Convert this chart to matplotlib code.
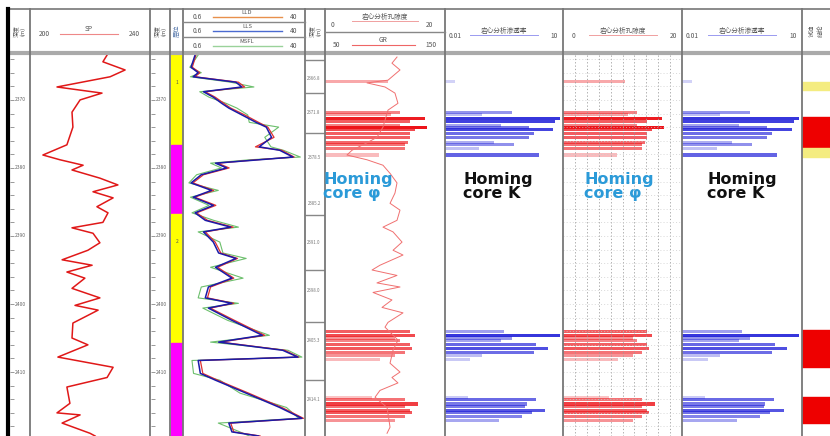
import numpy as np
import matplotlib.pyplot as plt

plt.rcParams['font.family'] = ['Noto Sans CJK SC', 'DejaVu Sans']

W, H = 830, 436
TOP, BASE = 2363.4, 2419.4   # depth shown in the log body (m)

# ---- SP curve (track 1) ----
sp_depth = [2363.4, 2364.4, 2365.6, 2366.6, 2368.1, 2369.0, 2370.0, 2371.8, 2374.0, 2376.6,
            2378.1, 2378.8, 2379.6, 2380.3, 2381.5, 2382.5, 2383.5, 2384.4, 2385.7, 2386.6,
            2388.0, 2388.8, 2389.6, 2391.0, 2392.1, 2393.5, 2394.3, 2395.3, 2396.2, 2397.7,
            2399.1, 2400.2, 2400.9, 2402.8, 2405.0, 2406.0, 2407.8, 2409.3, 2410.8, 2412.2,
            2414.6, 2416.0, 2416.3, 2417.5, 2419.0, 2419.4]
sp_value = [225.7, 224.3, 231.7, 226.7, 209.0, 224.0, 216.7, 214.0, 214.3, 212.3,
            204.3, 210.0, 217.7, 214.0, 223.3, 229.3, 221.0, 227.7, 222.3, 226.0,
            224.3, 214.0, 221.0, 223.3, 219.3, 210.7, 220.7, 212.3, 218.3, 214.0,
            223.3, 215.0, 222.7, 214.3, 214.0, 219.3, 209.3, 227.7, 225.7, 212.3,
            213.3, 209.0, 216.7, 210.7, 220.0, 221.7]

# ---- resistivity curves (track 2) ----
res_depth = [2363.4, 2365.2, 2366.0, 2366.6, 2367.4, 2368.1, 2368.8, 2369.6, 2370.5, 2371.2,
             2372.2, 2373.3, 2374.0, 2375.5, 2376.9, 2377.4, 2378.4, 2378.8, 2379.3, 2380.0,
             2381.0, 2382.2, 2383.3, 2384.3, 2385.5, 2386.6, 2387.7, 2388.7, 2389.4, 2390.9,
             2392.5, 2393.3, 2394.6, 2396.2, 2397.5, 2399.1, 2399.9, 2400.6, 2402.4, 2404.6,
             2405.6, 2406.8, 2407.8, 2408.3, 2410.2, 2411.2, 2413.1, 2415.2, 2416.8, 2417.5,
             2418.8, 2419.4]
lls = [4.5, 3.2, 5.5, 3.9, 17.7, 19.6, 7.2, 10.4, 13.1, 15.4,
       19.6, 24.2, 27.5, 29.2, 25.2, 31.8, 36.1, 25.2, 11.1, 14.7,
       6.5, 3.2, 9.8, 3.9, 10.4, 4.5, 7.8, 16.0, 7.2, 10.4,
       12.1, 17.7, 11.1, 16.4, 8.8, 7.8, 16.4, 8.8, 16.4, 26.2,
       12.1, 32.8, 37.7, 5.5, 6.2, 11.1, 21.0, 31.8, 39.0, 15.4,
       16.4, 25.0]
lld = [4.8, 3.6, 6.0, 4.5, 18.5, 20.5, 7.8, 11.0, 13.8, 16.0,
       20.5, 25.0, 28.0, 30.0, 24.0, 32.5, 36.5, 24.5, 11.8, 15.5,
       7.2, 3.8, 10.5, 4.4, 11.2, 5.0, 8.5, 16.8, 7.8, 11.0,
       12.8, 18.2, 11.8, 17.0, 9.5, 8.5, 17.0, 9.4, 17.2, 27.0,
       12.8, 33.5, 38.0, 6.2, 7.0, 11.8, 21.8, 32.5, 39.5, 16.0,
       17.0, 25.5]
msfl = [5.5, 2.8, 6.5, 3.0, 16.0, 23.5, 6.0, 9.0, 14.5, 18.0,
        21.5, 22.0, 31.5, 27.0, 29.0, 33.0, 38.5, 22.0, 9.5, 13.0,
        5.0, 2.5, 12.0, 3.0, 9.0, 3.5, 10.5, 18.5, 5.5, 12.5,
        13.5, 21.0, 9.5, 20.0, 6.5, 5.5, 18.5, 7.0, 15.0, 28.5,
        9.5, 34.5, 39.0, 3.5, 4.0, 12.5, 19.0, 34.0, 38.0, 12.0,
        19.0, 22.0]

# ---- GR curve in the core porosity track ----
gr_depth = [2363.7, 2364.6, 2365.6, 2367.1, 2367.5, 2368.1, 2369.0, 2370.5, 2371.5, 2374.0,
            2375.5, 2376.3, 2377.4, 2378.1, 2378.8, 2379.6, 2380.8, 2382.2, 2383.7, 2385.2,
            2386.2, 2387.7, 2388.7, 2389.4, 2390.9, 2392.1, 2392.8, 2394.3, 2395.0, 2395.8,
            2396.9, 2397.5, 2398.3, 2399.4, 2400.5, 2401.3, 2402.7, 2403.4, 2405.3, 2406.8,
            2408.7, 2410.0, 2410.8, 2411.6, 2412.7, 2413.7, 2415.2, 2418.1, 2419.0]
gr_value = [110, 105.8, 112.5, 102.5, 85, 100, 108.3, 110.8, 102.5, 98.3,
            93.3, 85, 72.5, 68.3, 85, 98.3, 104.2, 110, 108.3, 104.2,
            112.5, 110, 98.3, 106.7, 114.2, 106.7, 115, 95.8, 89.2, 110,
            93.3, 112.5, 90, 105.8, 97.5, 115, 102.5, 100, 110.8, 106.7,
            104.2, 112.5, 105.8, 110.8, 95.8, 91.7, 101.7, 104.2, 101.7]

# ---- core analysis (porosity %, permeability mD) ----
core_depth = [2367.35, 2371.8, 2372.2, 2372.7, 2373.2, 2373.7, 2374.1, 2374.4, 2374.9, 2375.5,
              2376.2, 2376.6, 2377.1, 2378.1, 2404.1, 2404.6, 2405.0, 2405.4, 2406.0, 2406.5,
              2407.1, 2407.6, 2408.2, 2413.7, 2414.1, 2414.7, 2415.1, 2415.6, 2416.0, 2416.6,
              2417.1]
core_por = [10.5, 12.5, 11.0, 16.7, 14.2, 12.5, 17.0, 15.0, 14.2, 14.2,
            13.8, 13.3, 13.3, 9.0, 14.2, 15.0, 11.7, 12.5, 14.2, 14.5,
            13.3, 11.7, 9.2, 7.8, 13.3, 15.5, 13.3, 14.2, 14.5, 13.3,
            11.7]
core_perm = [0.018, 0.5, 0.089, 8.5, 6.3, 0.27, 1.33, 5.6, 1.8, 1.33,
             0.18, 0.56, 0.075, 2.4, 0.32, 8.5, 0.5, 0.27, 2.1, 4.2,
             1.8, 0.089, 0.044, 0.038, 2.0, 1.2, 1.1, 3.5, 1.6, 0.9,
             0.24]

# ---- zones and test conclusions ----
zone_top = [2363.4, 2376.6, 2386.8, 2405.8]
zone_base = [2376.6, 2386.8, 2405.8, 2419.4]
zone_kind = ['sand', 'mud', 'sand', 'mud']
zone_name = ['1', '', '2', '']
result_top = [2367.4, 2372.5, 2377.1, 2403.8, 2406.5, 2413.7]
result_base = [2368.5, 2376.9, 2378.4, 2406.3, 2409.3, 2417.5]
result_kind = ['poor', 'oil', 'poor', 'oil', 'oil', 'oil']

depth_major = [2370, 2380, 2390, 2400, 2410]
core_marks = [2366.8, 2371.8, 2378.5, 2385.2, 2391.0, 2398.0, 2405.3, 2414.1]
core_breaks = [2364.1, 2369.0, 2374.9, 2386.9, 2395.0, 2402.7, 2411.2]

zone_colors = {'sand': '#ffff00', 'mud': '#ff00ff'}
result_colors = {'oil': '#ee0000', 'poor': '#f4ec80'}
GRAY = '#555555'

fig = plt.figure(figsize=(W / 100, H / 100), dpi=100)


def track(x0, x1, y0=55, y1=436):
    ax = fig.add_axes([x0 / W, 1 - y1 / H, (x1 - x0) / W, (y1 - y0) / H])
    ax.set_ylim(BASE, TOP)
    ax.set_xticks([])
    ax.set_yticks([])
    for s in ax.spines.values():
        s.set_visible(False)
    ax.patch.set_alpha(0)
    return ax


def no_ticks(ax):
    ax.set_xticks([])
    ax.set_xticks([], minor=True)
    ax.set_yticks([])
    ax.set_yticks([], minor=True)


# depth columns
for x0, x1 in [(9, 30), (150, 170)]:
    ax = track(x0, x1)
    ax.set_xlim(0, 1)
    ax.hlines(np.arange(2364, 2420, 2), 0.05, 0.25, color='#888', lw=0.6)
    for d in depth_major:
        ax.text(0.55, d, str(d), fontsize=3.6, color='#666', ha='center', va='center')

ax = track(305, 325)
ax.set_xlim(0, 1)
ax.hlines(core_breaks, 0, 1, color='#888', lw=1.0)
for d in core_marks:
    ax.text(0.45, d, f'{d:.1f}', fontsize=3.2, color='#777', ha='center', va='center')

# SP
ax = track(30, 150)
ax.set_xlim(200, 240)
ax.plot(sp_value, sp_depth, color='#e01818', lw=1.1)

# zones
ax = track(171, 183)
ax.set_xlim(0, 1)
for t, b, k, n in zip(zone_top, zone_base, zone_kind, zone_name):
    ax.axhspan(t, b, color=zone_colors[k])
    if n:
        ax.text(0.5, t + 4, n, fontsize=3.5, color='#555', ha='center', va='center')

# resistivity
ax = track(183, 305)
ax.set_xlim(0.6, 40)
ax.plot(msfl, res_depth, color='#6cbf6c', lw=0.8)
ax.plot(lld, res_depth, color='#e03030', lw=0.9)
ax.plot(lls, res_depth, color='#1a1aa8', lw=1.1)


def por_bars(ax):
    v = np.array(core_por)
    a = 0.25 + 0.75 * ((v - v.min()) / (v.max() - v.min())) ** 1.5
    cols = [(0.93, 0.08, 0.1, x) for x in a]
    ax.barh(core_depth, core_por, height=0.45, left=0, color=cols, lw=0)


def perm_bars(ax):
    ax.set_xscale('log')
    ax.set_xlim(0.01, 10)
    k = np.log10(core_perm)
    a = 0.2 + 0.7 * ((k - k.min()) / (k.max() - k.min())) ** 1.5
    cols = [(0.12, 0.12, 0.85, x) for x in a]
    ax.barh(core_depth, np.array(core_perm) - 0.01, height=0.45, left=0.01, color=cols, lw=0)
    no_ticks(ax)


# porosity 1 with GR
ax = track(325, 445)
ax.set_xlim(0, 20)
por_bars(ax)
ax2 = ax.twiny()
ax2.set_xlim(50, 150)
ax2.plot(gr_value, gr_depth, color='#f07070', lw=0.7)
no_ticks(ax2)
for s in ax2.spines.values():
    s.set_visible(False)

# permeability 1
perm_bars(track(445, 563))

# porosity 2 with dotted grid
ax = track(563, 682)
ax.set_xlim(0, 20)
ax.vlines(np.arange(2, 20, 2), TOP, BASE, color='#999', lw=0.6, linestyles=(0, (1.5, 2.5)))
ax.hlines(np.arange(2364, 2420, 2), 0, 20, color='#ccc', lw=0.5, linestyles=(0, (1.5, 3)))
por_bars(ax)

# permeability 2
perm_bars(track(682, 802))

# test conclusions
ax = track(802, 830)
ax.set_xlim(0, 1)
for t, b, k in zip(result_top, result_base, result_kind):
    ax.axhspan(t, b, color=result_colors[k])

# ---- overlay: frame, header ----
ov = fig.add_axes([0, 0, 1, 1])
ov.set_xlim(0, W)
ov.set_ylim(H, 0)
ov.axis('off')
ov.plot([9, 830], [9, 9], color='#777', lw=1.2)
ov.plot([9, 830], [53.5, 53.5], color='#aaa', lw=3)
ov.plot([8, 8], [9, 436], color='black', lw=3)
for x in [30, 150, 170, 183, 305, 325, 445, 563, 682, 802]:
    ov.plot([x, x], [9, 436], color='#777', lw=1.3)
ov.plot([183, 305], [22, 22], color='#888', lw=1)
ov.plot([183, 305], [37, 37], color='#888', lw=1)
ov.plot([325, 445], [32, 32], color='#888', lw=1)

fs = 4.8
for xc in [19.5, 160, 315]:
    ov.text(xc, 31, '深度\n(m)', rotation=90, fontsize=4.2, color=GRAY, ha='center', va='center')
ov.text(177, 31, '层位', rotation=90, fontsize=4.5, color='#5577aa', ha='center', va='center')
ov.text(816, 31, '试油\n结论', rotation=90, fontsize=4.5, color=GRAY, ha='center', va='center')

ov.text(44, 34, '200', fontsize=fs, color=GRAY, ha='center', va='center')
ov.plot([60, 118], [34, 34], color='#e88', lw=0.8)
ov.text(89, 29, 'SP', fontsize=fs, color=GRAY, ha='center', va='center')
ov.text(134, 34, '240', fontsize=fs, color=GRAY, ha='center', va='center')

for yc, name, col in [(16, 'LLD', '#e8904c'), (30, 'LLS', '#4a6ad0'), (45, 'MSFL', '#9ad29a')]:
    ov.text(197, yc + 1, '0.6', fontsize=fs, color=GRAY, ha='center', va='center')
    ov.plot([213, 282], [yc + 1, yc + 1], color=col, lw=1)
    ov.text(247, yc - 3.5, name, fontsize=4.2, color=GRAY, ha='center', va='center')
    ov.text(294, yc + 1, '40', fontsize=fs, color=GRAY, ha='center', va='center')

ov.text(332, 25, '0', fontsize=fs, color=GRAY, ha='center', va='center')
ov.text(385, 17, '岩心分析孔隙度', fontsize=fs, color=GRAY, ha='center', va='center')
ov.plot([352, 418], [21.5, 21.5], color='#f0a0a0', lw=0.7)
ov.text(429, 25, '20', fontsize=fs, color=GRAY, ha='center', va='center')
ov.text(337, 45, '50', fontsize=fs, color=GRAY, ha='center', va='center')
ov.plot([352, 415], [45, 45], color='#e66', lw=0.8)
ov.text(383, 40, 'GR', fontsize=fs, color=GRAY, ha='center', va='center')
ov.text(431, 45, '150', fontsize=fs, color=GRAY, ha='center', va='center')

for x0, x1, lo, hi, title, col in [(445, 563, '0.01', '10', '岩心分析渗透率', '#9a9af0'),
                                   (563, 682, '0', '20', '岩心分析孔隙度', '#f0a0a0'),
                                   (682, 802, '0.01', '10', '岩心分析渗透率', '#9a9af0')]:
    xm = (x0 + x1) / 2
    ov.text(x0 + 10, 36, lo, fontsize=fs, color=GRAY, ha='center', va='center')
    ov.text(xm, 31, title, fontsize=fs, color=GRAY, ha='center', va='center')
    ov.plot([xm - 34, xm + 34], [35, 35], color=col, lw=0.7)
    ov.text(x1 - 9, 36, hi, fontsize=fs, color=GRAY, ha='center', va='center')

# labels written over the core tracks
for x, txt, col in [(323, 'Homing\ncore φ', '#2b9ad8'), (463, 'Homing\ncore K', '#111111'),
                    (584, 'Homing\ncore φ', '#2b9ad8'), (707, 'Homing\ncore K', '#111111')]:
    ov.text(x, 172, txt, fontsize=11.5, fontweight='bold', family='DejaVu Sans', color=col,
            ha='left', va='top', linespacing=0.95, zorder=10)

fig.savefig('out.png', dpi=100)
